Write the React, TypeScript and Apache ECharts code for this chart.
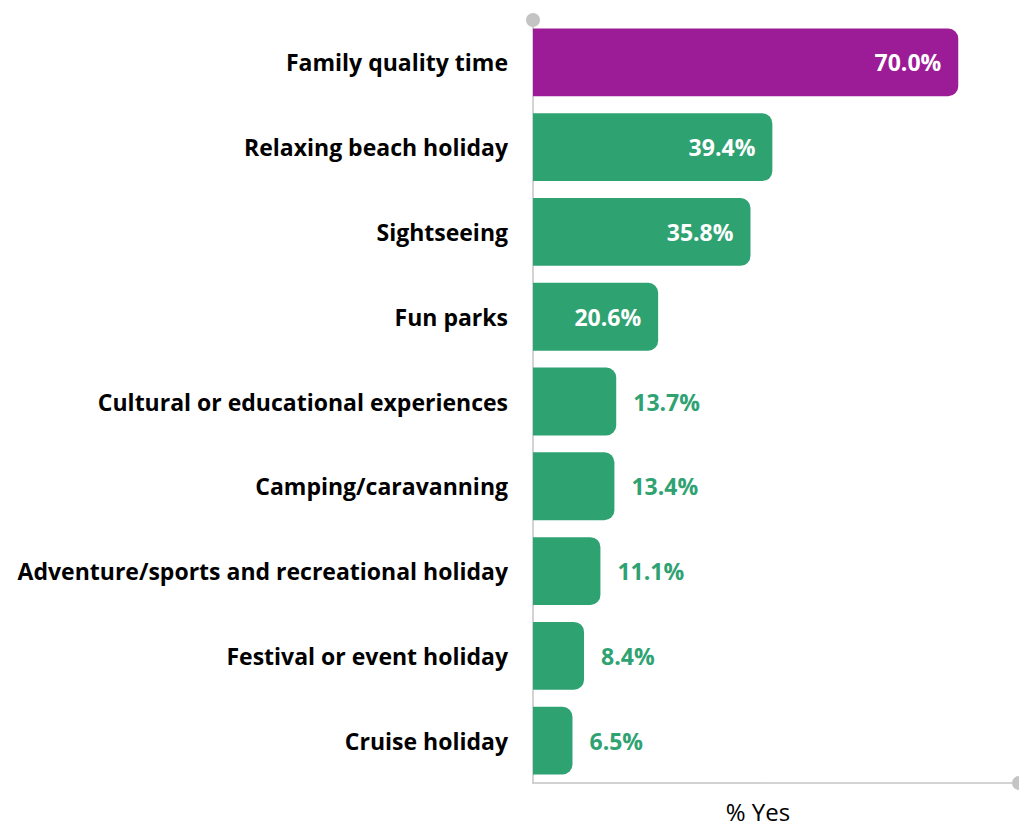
import React, { useEffect, useRef } from "react";
import * as echarts from "echarts";

const categories = [
  "Family quality time",
  "Relaxing beach holiday",
  "Sightseeing",
  "Fun parks",
  "Cultural or educational experiences",
  "Camping/caravanning",
  "Adventure/sports and recreational holiday",
  "Festival or event holiday",
  "Cruise holiday",
];
const values = [70.0, 39.4, 35.8, 20.6, 13.7, 13.4, 11.1, 8.4, 6.5];
const insideLabel = [true, true, true, true, false, false, false, false, false];
const axisName = "% Yes";

const PURPLE = "#9B1C96";
const GREEN = "#2FA272";
const FONT = "'Open Sans', Lato, sans-serif";

export default function App() {
  const ref = useRef<HTMLDivElement>(null);
  useEffect(() => {
    if (!ref.current) return;
    const chart = echarts.init(ref.current, null, { renderer: "svg" });
    const cats = [...categories].reverse();
    const data = values
      .map((v, i) => {
        const color = i === 0 ? PURPLE : GREEN;
        return {
          value: v,
          itemStyle: { color, borderRadius: [0, 10, 10, 0] },
          label: insideLabel[i]
            ? { position: "insideRight", distance: 17, color: "#ffffff" }
            : { position: "right", distance: 17, color: GREEN },
        };
      })
      .reverse();
    chart.setOption({
      animation: false,
      grid: { left: 533, right: -2, top: 20, bottom: 45, containLabel: false },
      xAxis: {
        type: "value",
        min: 0,
        max: 80,
        axisLine: {
          show: true,
          lineStyle: { color: "#C4C4C4", width: 1.5 },
          symbol: ["none", "circle"],
          symbolSize: [14, 14],
        },
        axisTick: { show: false },
        axisLabel: { show: false },
        splitLine: { show: false },
      },
      yAxis: {
        type: "category",
        data: cats,
        axisLine: {
          show: true,
          lineStyle: { color: "#C4C4C4", width: 1.5 },
          symbol: ["none", "circle"],
          symbolSize: [14, 14],
        },
        axisTick: { show: false },
        axisLabel: {
          margin: 25,
          color: "#000000",
          fontFamily: FONT,
          fontWeight: "bold",
          fontSize: 23,
        },
      },
      series: [
        {
          type: "bar",
          data,
          barCategoryGap: "20%",
          label: {
            show: true,
            fontFamily: FONT,
            fontWeight: "bold",
            fontSize: 23,
            formatter: (p: any) => Number(p.value).toFixed(1) + "%",
          },
        },
      ],
      graphic: [
        {
          type: "text",
          x: 758,
          y: 811,
          style: {
            text: axisName,
            fill: "#000000",
            fontFamily: FONT,
            fontSize: 24,
            textAlign: "center",
            textVerticalAlign: "middle",
          },
        },
      ],
    });
    return () => chart.dispose();
  }, []);
  return (
    <div
      ref={ref}
      style={{ position: "fixed", left: 0, top: 0, width: 1019, height: 828, background: "#fff" }}
    />
  );
}
